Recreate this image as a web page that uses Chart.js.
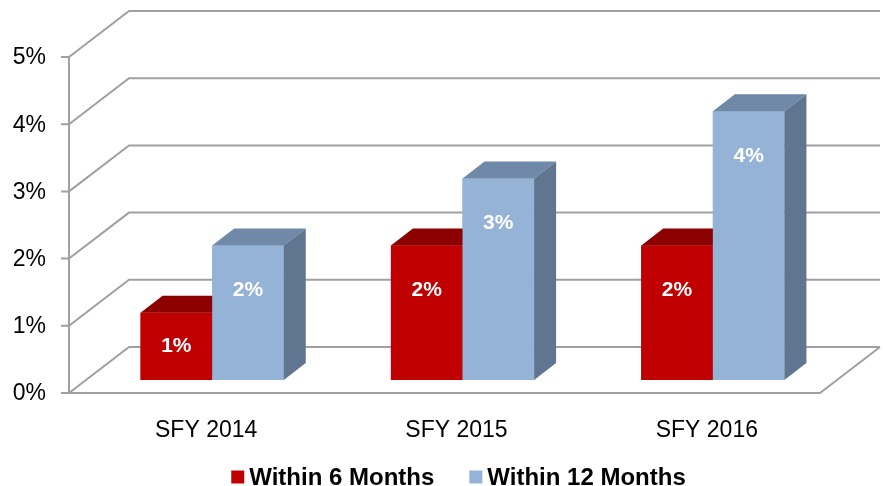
<!DOCTYPE html>
<html>
<head>
<meta charset="utf-8">
<style>
  html, body { margin: 0; padding: 0; background: #ffffff; }
  #chart { display: block; }
</style>
</head>
<body>
<canvas id="chart" width="885" height="486"></canvas>
<script src="https://cdn.jsdelivr.net/npm/chart.js@4.4.1/dist/chart.umd.min.js"></script>
<script>
// chart values
const categories = ['SFY 2014', 'SFY 2015', 'SFY 2016'];
const seriesNames = ['Within 6 Months', 'Within 12 Months'];
const within6Months = [1, 2, 2];
const within12Months = [2, 3, 4];
const yTicks = [0, 1, 2, 3, 4, 5];

// look of the 3d box
const FONT = '"Liberation Sans", Arial, sans-serif';
const GRID_COLOR = '#a0a0a0';
const FRONT = { dx: -18, dy: 13 };      // bar plane -> front plane
const DEPTH = { dx: 60, dy: -46 };      // front plane -> back wall
const BAR_DEPTH = { dx: 22, dy: -17 };  // thickness of a bar
const FACE = [
  { front: '#c00000', top: '#8c0000', side: '#780000' },
  { front: '#95b3d7', top: '#7189a9', side: '#607590' }
];

/**
 * Back wall, left wall and floor
 */
function drawWalls (chart) {
  const { ctx, chartArea } = chart;
  const y = chart.scales.y;
  const left = chartArea.left + FRONT.dx;
  const right = chartArea.right + FRONT.dx;

  ctx.save();
  ctx.strokeStyle = GRID_COLOR;
  ctx.lineWidth = 2;
  ctx.fillStyle = '#000000';
  ctx.font = '23px ' + FONT;
  ctx.textAlign = 'right';
  ctx.textBaseline = 'middle';

  yTicks.forEach(v => {
    const fy = y.getPixelForValue(v) + FRONT.dy;
    ctx.beginPath();
    ctx.moveTo(left - 8, fy);
    ctx.lineTo(left, fy);
    ctx.lineTo(left + DEPTH.dx, fy + DEPTH.dy);
    ctx.lineTo(right + DEPTH.dx, fy + DEPTH.dy);
    ctx.stroke();
    ctx.fillText(v + '%', left - 23, fy + 1);
  });

  const y0 = y.getPixelForValue(0) + FRONT.dy;
  const yTop = y.getPixelForValue(yTicks[yTicks.length - 1]) + FRONT.dy;
  ctx.beginPath();
  ctx.moveTo(left, yTop);
  ctx.lineTo(left, y0);
  ctx.lineTo(right, y0);
  ctx.lineTo(right + DEPTH.dx, y0 + DEPTH.dy);
  ctx.stroke();

  // category labels
  ctx.textAlign = 'center';
  categories.forEach((c, i) => {
    ctx.fillText(c, chart.scales.x.getPixelForValue(i) - 6, 431);
  });
  ctx.restore();
}

function fillPoly (ctx, pts, color) {
  ctx.fillStyle = color;
  ctx.beginPath();
  ctx.moveTo(pts[0][0], pts[0][1]);
  pts.slice(1).forEach(p => ctx.lineTo(p[0], p[1]));
  ctx.closePath();
  ctx.fill();
}

/**
 * Front face (library element), top and right side of each bar
 */
function drawBars (chart) {
  const ctx = chart.ctx;
  const metas = chart.data.datasets.map((d, i) => chart.getDatasetMeta(i));

  categories.forEach((c, i) => {
    metas.forEach((meta, d) => {
      const bar = meta.data[i];
      const { x, y, base, width } = bar.getProps(['x', 'y', 'base', 'width'], true);
      const l = x - width / 2;
      const r = x + width / 2;
      const { dx, dy } = BAR_DEPTH;

      bar.draw(ctx);
      fillPoly(ctx, [[l, y], [r, y], [r + dx, y + dy], [l + dx, y + dy]], FACE[d].top);
      fillPoly(ctx, [[r, y], [r + dx, y + dy], [r + dx, base + dy], [r, base]], FACE[d].side);
    });
  });

  // value labels
  ctx.save();
  ctx.fillStyle = '#ffffff';
  ctx.font = 'bold 21px ' + FONT;
  ctx.textAlign = 'center';
  ctx.textBaseline = 'middle';
  metas.forEach((meta, d) => {
    const values = chart.data.datasets[d].data;
    meta.data.forEach((bar, i) => {
      const { x, y, base } = bar.getProps(['x', 'y', 'base'], true);
      const ly = Math.min(y + 45, (y + base) / 2);
      ctx.fillText(values[i] + '%', x, ly);
    });
  });
  ctx.restore();
}

function drawLegend (chart) {
  const ctx = chart.ctx;
  const box = 13;
  const gap = 5;
  const spacing = 35;
  ctx.save();
  ctx.font = 'bold 24px ' + FONT;
  ctx.textBaseline = 'middle';
  ctx.textAlign = 'left';

  const widths = seriesNames.map(n => ctx.measureText(n).width);
  const total = widths.reduce((a, w) => a + box + gap + w, 0) + spacing * (seriesNames.length - 1);
  const area = chart.chartArea;
  let cx = (area.left + area.right) / 2 - 4 - total / 2;
  const cy = 477;

  seriesNames.forEach((name, i) => {
    ctx.fillStyle = FACE[i].front;
    ctx.fillRect(cx, cy - box / 2, box, box);
    ctx.fillStyle = '#000000';
    ctx.fillText(name, cx + box + gap, cy + 1);
    cx += box + gap + widths[i] + spacing;
  });
  ctx.restore();
}

const box3d = {
  id: 'box3d',
  beforeDatasetsDraw (chart) {
    drawWalls(chart);
  },
  afterDatasetsDraw (chart) {
    drawBars(chart);
    drawLegend(chart);
  }
};

new Chart(document.getElementById('chart'), {
  type: 'bar',
  data: {
    labels: categories,
    datasets: [
      { label: seriesNames[0], data: within6Months, backgroundColor: FACE[0].front },
      { label: seriesNames[1], data: within12Months, backgroundColor: FACE[1].front }
    ]
  },
  options: {
    responsive: false,
    animation: false,
    devicePixelRatio: 1,
    layout: { padding: { left: 87, right: 47, top: 44, bottom: 106 } },
    datasets: {
      bar: { barPercentage: 1, categoryPercentage: 0.572, borderWidth: 0 }
    },
    scales: {
      x: { display: false },
      y: { display: false, min: 0, max: 5 }
    },
    plugins: {
      legend: { display: false },
      tooltip: { enabled: false }
    }
  },
  plugins: [box3d]
});
</script>
</body>
</html>
